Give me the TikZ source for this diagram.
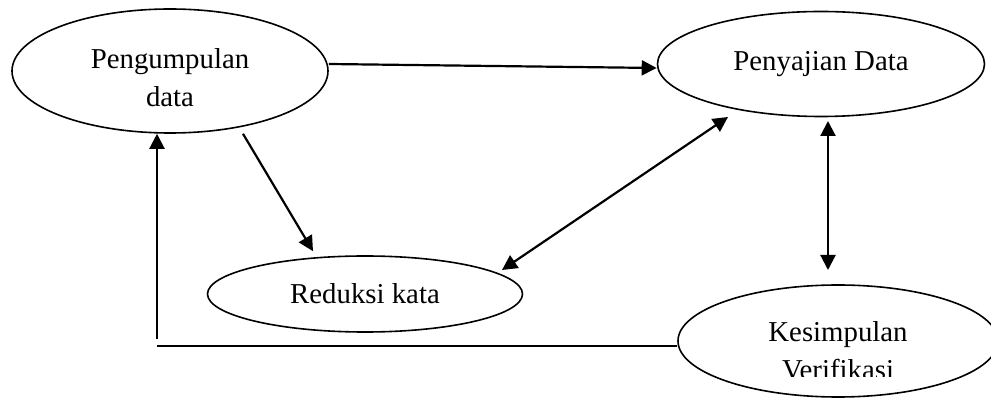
\documentclass[tikz,border=0pt]{standalone}
\usepackage{fontspec}
\setmainfont{Liberation Serif}
\usetikzlibrary{shapes.geometric,arrows.meta}
\begin{document}
\begin{tikzpicture}[x=1pt,y=1pt,
  bubble/.style={draw, ellipse, line width=1.6pt, inner sep=0pt},
  txt/.style={font=\fontsize{28.8}{38}\selectfont, align=center, inner sep=0pt},
  conn/.style={line width=2.2pt},
  arr/.style={conn, -{Triangle[length=15pt,width=15pt]}},
  darr/.style={conn, {Triangle[length=15pt,width=15pt]}-{Triangle[length=15pt,width=15pt]}}]
\useasboundingbox (0,0) rectangle (991,399);
% ellipses
\node[bubble, minimum width=316pt, minimum height=124pt,
  label={[name=p1t, txt, yshift=-7pt]center:Pengumpulan\\data}] (p1) at (170,328) {};
\node[bubble, minimum width=327pt, minimum height=105pt, txt] (p2) at (821,335) {Penyajian Data};
\node[bubble, minimum width=315pt, minimum height=76pt, txt] (r) at (365,105) {Reduksi kata};
\node[bubble, minimum width=320pt, minimum height=112pt] (k) at (838,58) {};
\begin{scope}
  \clip (600,22) rectangle (991,130);
  \node[txt] (kt) at (838,48) {Kesimpulan\\Verifikasi};
\end{scope}
% connectors
\draw[arr] ([yshift=7pt]p1.east) -- ([yshift=-4pt]p2.west);
\draw[arr] ([xshift=73pt]p1.south) -- ([shift={(-52pt,4pt)}]r.north);
\draw[darr] ([shift={(137pt,24pt)}]r.center) -- ([shift={(-93pt,-53pt)}]p2.center);
\draw[darr] ([shift={(7pt,-57pt)}]p2.center) -- ([shift={(-10pt,71pt)}]k.center);
\coordinate (c1) at (157,53);
\coordinate (c2) at (157,60);
\draw[conn] ([yshift=-5pt]k.west) -- (c1);
\draw[arr] (c2) -- ([xshift=-13pt]p1.south);
\end{tikzpicture}
\end{document}
